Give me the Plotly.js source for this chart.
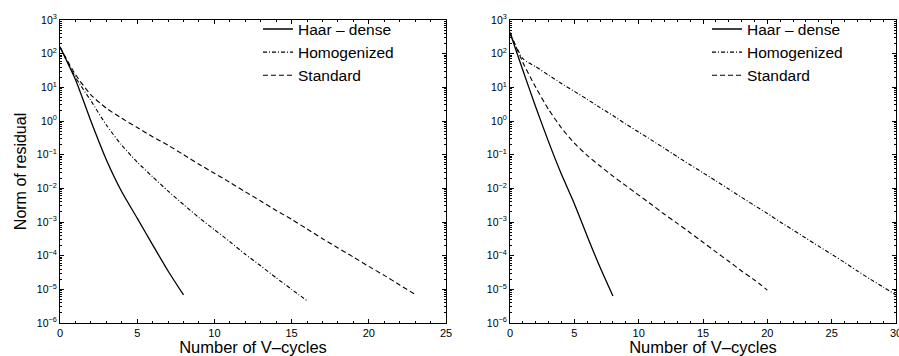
<!DOCTYPE html>
<html>
<head>
<meta charset="utf-8">
<script src="https://cdn.plot.ly/plotly-3.0.1.min.js"></script>
<style>html,body{margin:0;padding:0;background:#fff;}#chart{width:899px;height:356px;}</style>
</head>
<body>
<div id="chart"></div>
<script>
// ---- Data ----
var seriesNames = ["Haar \u2013 dense", "Homogenized", "Standard"];

// Left panel
var leftHaarX = [0,1,2,3,4,5,6,7,8];
var leftHaarY = [158, 17, 1.0, 0.071, 7.9e-3, 1.3e-3, 2.1e-4, 3.5e-5, 6.8e-6];
var leftHomX = [0,1,2,3,4,5,6,7,8,9,10,11,12,13,14,15,16];
var leftHomY = [158, 20, 4.0, 0.76, 0.19, 0.060, 0.022, 8.3e-3, 3.3e-3, 1.35e-3, 5.9e-4, 2.6e-4, 1.1e-4, 5.0e-5, 2.2e-5, 1.0e-5, 4.6e-6];
var leftStdX = [0,1,2,3,4,5,6,7,8,9,10,11,12,13,14,15,16,17,18,19,20,21,22,23];
var leftStdY = [158, 24, 6.0, 2.4, 1.2, 0.64, 0.34, 0.19, 0.10, 0.052, 0.028, 0.015, 7.9e-3, 4.2e-3, 2.2e-3, 1.2e-3, 6.2e-4, 3.2e-4, 1.7e-4, 9.1e-5, 4.8e-5, 2.6e-5, 1.35e-5, 7.1e-6];

// Right panel
var rightHaarX = [0,1,2,3,4,5,6,7,8];
var rightHaarY = [417, 32, 2.6, 0.24, 0.026, 3.5e-3, 3.8e-4, 4.5e-5, 6.3e-6];
var rightHomX = [0,1,2,3,4,5,6,7,8,9,10,11,12,13,14,15,16,17,18,19,20,21,22,23,24,25,26,27,28,29,30];
var rightHomY = [417, 71, 41, 23, 13, 7.6, 4.4, 2.5, 1.45, 0.81, 0.47, 0.27, 0.155, 0.087, 0.050, 0.029, 0.0166, 9.5e-3, 5.4e-3, 3.1e-3, 1.8e-3, 1.0e-3, 5.8e-4, 3.3e-4, 1.9e-4, 1.1e-4, 6.3e-5, 3.5e-5, 2.0e-5, 1.17e-5, 6.8e-6];
var rightStdX = [0,1,2,3,4,5,6,7,8,9,10,11,12,13,14,15,16,17,18,19,20];
var rightStdY = [417, 55, 10, 2.2, 0.62, 0.22, 0.095, 0.046, 0.023, 0.012, 6.3e-3, 3.3e-3, 1.7e-3, 9.1e-4, 4.8e-4, 2.5e-4, 1.3e-4, 6.8e-5, 3.5e-5, 1.9e-5, 9.5e-6];

// Tick labels
var yTickVals = [1e-6, 1e-5, 1e-4, 1e-3, 1e-2, 1e-1, 1e0, 1e1, 1e2, 1e3];
var yTickText = ["10<sup>\u22126</sup>","10<sup>\u22125</sup>","10<sup>\u22124</sup>","10<sup>\u22123</sup>","10<sup>\u22122</sup>","10<sup>\u22121</sup>","10<sup>0</sup>","10<sup>1</sup>","10<sup>2</sup>","10<sup>3</sup>"];
var leftXTicks = [0,5,10,15,20,25];
var rightXTicks = [0,5,10,15,20,25,30];
var xTitle = "Number of V\u2013cycles";
var yTitle = "Norm of residual";

// ---- Styling ----
var FONT = "Liberation Sans, Arial, Helvetica, sans-serif";
var styles = [
  {color:"#000", width:1.3, dash:"solid"},
  {color:"#000", width:1.1, dash:"4px,2px,1px,2px"},
  {color:"#000", width:1.1, dash:"5px,3px"}
];

var yMinor = [];
for (var e = -6; e < 3; e++) { for (var m = 2; m <= 9; m++) { yMinor.push(m * Math.pow(10, e)); } }

function mk(x, y, i, xa, ya, lg) {
  return {x:x, y:y, type:"scatter", mode:"lines", line:{shape:"spline", smoothing:0.6, color:styles[i].color, width:styles[i].width, dash:styles[i].dash},
    name:seriesNames[i], xaxis:xa, yaxis:ya, legend:lg, showlegend:true, hoverinfo:"skip"};
}

var traces = [
  mk(leftHaarX, leftHaarY, 0, "x", "y", "legend"),
  mk(leftHomX, leftHomY, 1, "x", "y", "legend"),
  mk(leftStdX, leftStdY, 2, "x", "y", "legend"),
  mk(rightHaarX, rightHaarY, 0, "x2", "y2", "legend2"),
  mk(rightHomX, rightHomY, 1, "x2", "y2", "legend2"),
  mk(rightStdX, rightStdY, 2, "x2", "y2", "legend2")
];

function xAxis(dom, rng, ticks, anchor) {
  return {domain:dom, range:rng, anchor:anchor, tickmode:"array", tickvals:ticks, ticktext:ticks.map(String),
    ticks:"inside", ticklen:4, tickwidth:1, tickcolor:"#000", showline:true, linecolor:"#000", linewidth:1,
    mirror:"ticks", showgrid:false, zeroline:false, ticklabeloverflow:"allow",
    tickfont:{family:FONT, size:11, color:"#000"},
    minor:{ticks:"inside", ticklen:2, tickcolor:"#000", dtick:1, showgrid:false},
    title:{text:xTitle, font:{family:FONT, size:16.5, color:"#000"}, standoff:1}};
}
function yAxis(dom, anchor, withTitle) {
  var a = {domain:dom, type:"log", range:[-6,3], anchor:anchor, tickmode:"array", tickvals:yTickVals, ticktext:yTickText,
    ticks:"inside", ticklen:4, tickwidth:1, tickcolor:"#000", showline:true, linecolor:"#000", linewidth:1,
    mirror:"ticks", showgrid:false, zeroline:false, ticklabeloverflow:"allow",
    tickfont:{family:FONT, size:10.5, color:"#000"},
    minor:{ticks:"inside", ticklen:2, tickcolor:"#000", tickvals:yMinor, showgrid:false}};
  if (withTitle) a.title = {text:yTitle, font:{family:FONT, size:16, color:"#000"}, standoff:6};
  return a;
}

var W = 899;
var legendFont = {family:FONT, size:15.5, color:"#000"};
var layout = {
  width:899, height:356,
  margin:{l:0, r:0, t:20, b:33, pad:0},
  paper_bgcolor:"#fff", plot_bgcolor:"#fff",
  showlegend:true,
  xaxis: xAxis([60/W, 446/W], [0,25], leftXTicks, "y"),
  yaxis: yAxis([0,1], "x", true),
  xaxis2: xAxis([510/W, 896/W], [0,30], rightXTicks, "y2"),
  yaxis2: yAxis([0,1], "x2", false),
  legend:{x:258/W, y:1.025, xanchor:"left", yanchor:"top", bgcolor:"rgba(0,0,0,0)", borderwidth:0,
    font:legendFont, tracegroupgap:0, itemwidth:30},
  legend2:{x:707/W, y:1.025, xanchor:"left", yanchor:"top", bgcolor:"rgba(0,0,0,0)", borderwidth:0,
    font:legendFont, tracegroupgap:0, itemwidth:30}
};

Plotly.newPlot("chart", traces, layout, {staticPlot:true, displayModeBar:false});
</script>
</body>
</html>
